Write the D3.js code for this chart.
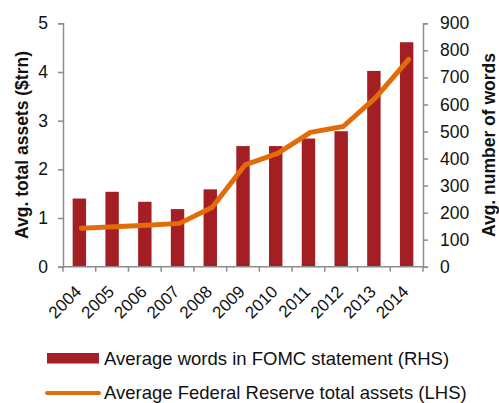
<!DOCTYPE html>
<html>
<head>
<meta charset="utf-8">
<script src="https://cdn.jsdelivr.net/npm/d3@7"></script>
<style>
  html, body { margin: 0; padding: 0; background: #fff; }
  svg { display: block; font-family: "Liberation Sans", Arial, sans-serif; }
</style>
</head>
<body>
<svg id="chart" width="499" height="403"></svg>
<script>
const years = ["2004","2005","2006","2007","2008","2009","2010","2011","2012","2013","2014"];
const words = [252, 277, 240, 213, 286, 446, 446, 474, 501, 724, 830];
const assets = [0.79, 0.82, 0.85, 0.89, 1.22, 2.09, 2.33, 2.76, 2.88, 3.48, 4.26];
const leftTicks = [0, 1, 2, 3, 4, 5];
const rightTicks = [0, 100, 200, 300, 400, 500, 600, 700, 800, 900];
const barLabel = "Average words in FOMC statement (RHS)";
const lineLabel = "Average Federal Reserve total assets (LHS)";
const leftTitle = "Avg. total assets ($trn)";
const rightTitle = "Avg. number of words";

const svg = d3.select("#chart");
const x0 = 63, x1 = 423, yTop = 23.3, yBot = 266.7;
const axisColor = "#8c8c8c";
const barColor = "#A31F23";
const lineColor = "#E36C0A";
const textColor = "#111";

const x = d3.scaleBand().domain(years).range([x0, x1]).padding(0);
const yL = d3.scaleLinear().domain([0, 5]).range([yBot, yTop]);
const yR = d3.scaleLinear().domain([0, 900]).range([yBot, yTop]);

// bars
const bw = x.step() * 0.41;
svg.append("g").selectAll("rect").data(years).join("rect")
  .attr("x", d => x(d) + x.bandwidth() / 2 - bw / 2)
  .attr("width", bw)
  .attr("y", (d, i) => yR(words[i]))
  .attr("height", (d, i) => yBot - yR(words[i]))
  .attr("fill", barColor);

// left axis
const gL = svg.append("g").attr("transform", `translate(${x0},0)`)
  .call(d3.axisLeft(yL).tickValues(leftTicks).tickFormat(d3.format("d")).tickSize(5).tickPadding(10));
// right axis
const gR = svg.append("g").attr("transform", `translate(${x1},0)`)
  .call(d3.axisRight(yR).tickValues(rightTicks).tickFormat(d3.format("d")).tickSize(5).tickPadding(12));
// bottom axis: ticks at band boundaries
const gB = svg.append("g").attr("transform", `translate(0,${yBot})`);
gB.append("line").attr("x1", x0).attr("x2", x1).attr("y1", 0).attr("y2", 0)
  .attr("stroke", axisColor).attr("stroke-width", 1.5);
const bounds = years.map(d => x(d)).concat([x1]);
gB.selectAll("line.tk").data(bounds).join("line").attr("class", "tk")
  .attr("x1", d => d).attr("x2", d => d).attr("y1", 0).attr("y2", 5)
  .attr("stroke", axisColor).attr("stroke-width", 1.5);
gB.selectAll("text").data(years).join("text")
  .attr("transform", d => `translate(${x(d) + x.bandwidth() / 2 + 3},${26}) rotate(-45)`)
  .attr("text-anchor", "end")
  .attr("font-size", 17)
  .attr("fill", textColor)
  .text(d => d);

[gL, gR].forEach(g => {
  g.select(".domain").attr("stroke", axisColor).attr("stroke-width", 1.5);
  g.selectAll(".tick line").attr("stroke", axisColor).attr("stroke-width", 1.5);
  g.selectAll(".tick text").attr("font-size", 17.5).attr("fill", textColor)
    .attr("font-family", "\"Liberation Sans\", Arial, sans-serif");
});

// line
const line = d3.line()
  .x((d, i) => x(years[i]) + x.bandwidth() / 2 + 2)
  .y(d => yL(d));
svg.append("path").datum(assets)
  .attr("d", line)
  .attr("fill", "none")
  .attr("stroke", lineColor)
  .attr("stroke-width", 5)
  .attr("stroke-linecap", "round")
  .attr("stroke-linejoin", "round");

// axis titles
svg.append("text")
  .attr("transform", `translate(27.5,145) rotate(-90)`)
  .attr("text-anchor", "middle")
  .attr("font-size", 17.5).attr("font-weight", "bold").attr("fill", textColor)
  .text(leftTitle);
svg.append("text")
  .attr("transform", `translate(494.5,145) rotate(-90)`)
  .attr("text-anchor", "middle")
  .attr("font-size", 17.5).attr("font-weight", "bold").attr("fill", textColor)
  .text(rightTitle);

// legend
const lg = svg.append("g");
lg.append("rect").attr("x", 47).attr("y", 353).attr("width", 52).attr("height", 10.5).attr("fill", barColor);
lg.append("text").attr("x", 104).attr("y", 364.5).attr("font-size", 18.5).attr("fill", textColor).text(barLabel);
lg.append("line").attr("x1", 47).attr("x2", 99).attr("y1", 393).attr("y2", 393)
  .attr("stroke", lineColor).attr("stroke-width", 4).attr("stroke-linecap", "round");
lg.append("text").attr("x", 104).attr("y", 398.5).attr("font-size", 18.5).attr("fill", textColor).text(lineLabel);
</script>
</body>
</html>
